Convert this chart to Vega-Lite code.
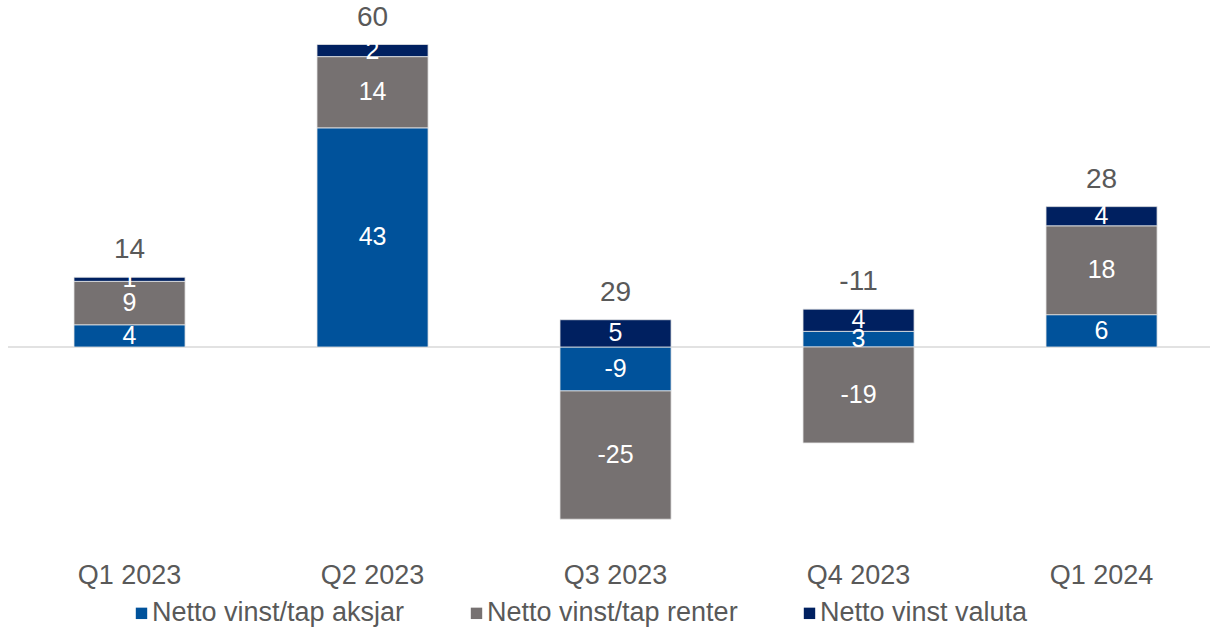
{
  "$schema": "https://vega.github.io/schema/vega-lite/v6.json",
  "width": 1202,
  "height": 545.4,
  "autosize": {"type": "none"},
  "padding": {"left": 8, "top": 3.6, "right": 0, "bottom": 82},
  "background": "white",
  "config": {
    "view": {"stroke": null},
    "font": "Liberation Sans",
    "locale": {"number": {"decimal": ".", "thousands": ",", "grouping": [3], "currency": ["$", ""], "minus": "-"}}
  },
  "datasets": {
    "parts": [
      {"quarter": "Q1 2023", "series": "Netto vinst/tap aksjar", "idx": 1, "value": 4.4},
      {"quarter": "Q1 2023", "series": "Netto vinst/tap renter", "idx": 2, "value": 8.6},
      {"quarter": "Q1 2023", "series": "Netto vinst valuta", "idx": 3, "value": 0.8},
      {"quarter": "Q2 2023", "series": "Netto vinst/tap aksjar", "idx": 1, "value": 43.4},
      {"quarter": "Q2 2023", "series": "Netto vinst/tap renter", "idx": 2, "value": 14.1},
      {"quarter": "Q2 2023", "series": "Netto vinst valuta", "idx": 3, "value": 2.4},
      {"quarter": "Q3 2023", "series": "Netto vinst/tap aksjar", "idx": 1, "value": -8.7},
      {"quarter": "Q3 2023", "series": "Netto vinst/tap renter", "idx": 2, "value": -25.4},
      {"quarter": "Q3 2023", "series": "Netto vinst valuta", "idx": 3, "value": 5.4},
      {"quarter": "Q4 2023", "series": "Netto vinst/tap aksjar", "idx": 1, "value": 3.1},
      {"quarter": "Q4 2023", "series": "Netto vinst/tap renter", "idx": 2, "value": -19.0},
      {"quarter": "Q4 2023", "series": "Netto vinst valuta", "idx": 3, "value": 4.4},
      {"quarter": "Q1 2024", "series": "Netto vinst/tap aksjar", "idx": 1, "value": 6.4},
      {"quarter": "Q1 2024", "series": "Netto vinst/tap renter", "idx": 2, "value": 17.6},
      {"quarter": "Q1 2024", "series": "Netto vinst valuta", "idx": 3, "value": 3.8}
    ],
    "totals": [
      {"quarter": "Q1 2023", "total": "14"},
      {"quarter": "Q2 2023", "total": "60"},
      {"quarter": "Q3 2023", "total": "29"},
      {"quarter": "Q4 2023", "total": "-11"},
      {"quarter": "Q1 2024", "total": "28"}
    ]
  },
  "data": {"name": "parts"},
  "resolve": {"scale": {"y": "shared", "x": "shared"}},
  "layer": [
    {
      "data": {"values": [{"zero": 0}]},
      "mark": {"type": "rule", "color": "#D9D9D9", "strokeWidth": 1.5},
      "encoding": {
        "y": {"field": "zero", "type": "quantitative", "scale": {"domain": [-40, 68], "nice": false}, "axis": null}
      }
    },
    {
      "mark": {"type": "bar", "stroke": "#E4E4E4", "strokeWidth": 0.8},
      "encoding": {
        "x": {
          "field": "quarter", "type": "nominal",
          "sort": ["Q1 2023", "Q2 2023", "Q3 2023", "Q4 2023", "Q1 2024"],
          "scale": {"paddingInner": 0.543, "paddingOuter": 0.2447, "align": 0.555},
          "axis": {"title": null, "domain": false, "ticks": false, "labelAngle": 0, "labelFontSize": 27, "labelColor": "#595959", "labelPadding": 13, "labelFont": "Liberation Sans"}
        },
        "y": {"field": "value", "type": "quantitative", "stack": "zero", "scale": {"domain": [-40, 68], "nice": false}, "axis": null},
        "color": {
          "field": "series", "type": "nominal",
          "scale": {"domain": ["Netto vinst/tap aksjar", "Netto vinst/tap renter", "Netto vinst valuta"], "range": ["#00529B", "#767171", "#002060"]},
          "legend": {
            "title": null, "orient": "none", "direction": "horizontal", "legendX": 120, "legendY": 596,
            "symbolType": "square", "symbolSize": 130, "symbolStrokeWidth": 0,
            "labelFontSize": 27, "labelColor": "#595959", "labelFont": "Liberation Sans", "labelLimit": 400,
            "labelOffset": -3, "columnPadding": 58
          }
        },
        "order": {"field": "idx", "type": "quantitative"}
      }
    },
    {
      "transform": [
        {"stack": "value", "groupby": ["quarter"], "sort": [{"field": "idx", "order": "ascending"}], "as": ["v0", "v1"]},
        {"fold": ["v0", "v1"], "as": ["edge", "pos"]},
        {"aggregate": [{"op": "mean", "field": "pos", "as": "mid"}], "groupby": ["quarter", "series", "value"]}
      ],
      "mark": {"type": "text", "color": "white", "fontSize": 25, "baseline": "middle", "align": "center"},
      "encoding": {
        "x": {"field": "quarter", "type": "nominal", "sort": ["Q1 2023", "Q2 2023", "Q3 2023", "Q4 2023", "Q1 2024"]},
        "y": {"field": "mid", "type": "quantitative"},
        "text": {"field": "value", "type": "quantitative", "format": ".0f"}
      }
    },
    {
      "transform": [
        {"filter": "datum.value > 0"},
        {"aggregate": [{"op": "sum", "field": "value", "as": "top"}], "groupby": ["quarter"]},
        {"lookup": "quarter", "from": {"data": {"name": "totals"}, "key": "quarter", "fields": ["total"]}}
      ],
      "mark": {"type": "text", "color": "#595959", "fontSize": 28, "baseline": "middle", "align": "center", "dy": -27},
      "encoding": {
        "x": {"field": "quarter", "type": "nominal", "sort": ["Q1 2023", "Q2 2023", "Q3 2023", "Q4 2023", "Q1 2024"]},
        "y": {"field": "top", "type": "quantitative"},
        "text": {"field": "total", "type": "nominal"}
      }
    }
  ]
}
